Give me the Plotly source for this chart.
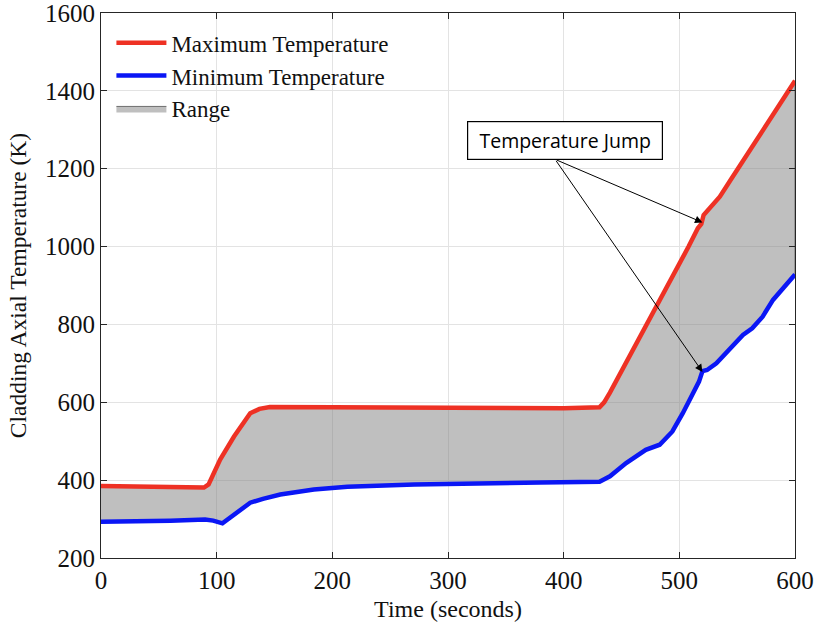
import plotly.graph_objects as go

# Maximum cladding temperature (K) vs time (s)
time_max = [0, 30, 60, 89, 93, 97, 103, 115, 129, 137, 146, 200, 250, 300, 350, 400, 431, 435, 440,
            450, 462, 471, 480, 490, 500, 508, 516, 519, 521, 527, 535, 545, 555, 563, 570, 580, 590, 600]
temp_max = [385, 384, 383, 381, 389, 415, 453, 512, 572, 583, 588, 587, 586, 586, 585, 585, 587, 600, 625,
            680, 743, 795, 846, 900, 953, 1000, 1047, 1058, 1081, 1100, 1128, 1174, 1220, 1256, 1288, 1334, 1380, 1426]

# Minimum cladding temperature (K) vs time (s)
time_min = [0, 30, 60, 90, 97, 105, 115, 129, 140, 155, 184, 213, 271, 328, 380, 431, 440, 454,
            463, 471, 483, 494, 503, 510, 517, 520, 524, 532, 540, 548, 555, 563, 572, 581, 590, 598, 600]
temp_min = [293, 294, 296, 299, 296, 289, 310, 342, 352, 363, 376, 383, 389, 393, 394, 396, 410, 444,
            462, 478, 491, 525, 572, 615, 653, 680, 683, 700, 726, 750, 773, 790, 820, 863, 895, 925, 928]

# Annotation
jump_label = "Temperature Jump"
jump_time = [520, 520]
jump_temp = [1062, 678]

x_ticks = [0, 100, 200, 300, 400, 500, 600]
y_ticks = [200, 400, 600, 800, 1000, 1200, 1400, 1600]

serif = "Liberation Serif"

fig = go.Figure()

fig.add_trace(go.Scatter(
    x=time_max + time_min[::-1],
    y=temp_max + temp_min[::-1],
    fill="toself",
    fillcolor="rgba(128,128,128,0.5)",
    line=dict(color="#6e6e6e", width=1),
    mode="lines",
    name="Range",
    legendrank=3,
    hoverinfo="skip",
))
fig.add_trace(go.Scatter(
    x=time_max, y=temp_max, mode="lines",
    line=dict(color="#EE3124", width=4.5),
    name="Maximum Temperature", legendrank=1,
))
fig.add_trace(go.Scatter(
    x=time_min, y=temp_min, mode="lines",
    line=dict(color="#0A16F5", width=4.5),
    name="Minimum Temperature", legendrank=2,
))

# Text box
fig.add_annotation(
    x=401, y=1272, xref="x", yref="y", text=jump_label, showarrow=False,
    font=dict(family="Open Sans", size=19.5, color="black"),
    bgcolor="white", bordercolor="black", borderwidth=1.2, borderpad=6,
    width=182, height=25,
)
for tx, ty in zip(jump_time, jump_temp):
    fig.add_annotation(
        x=tx, y=ty, xref="x", yref="y", ax=392.6, ay=1224, axref="x", ayref="y",
        text="", showarrow=True, arrowhead=2, arrowsize=1.5, arrowwidth=1, arrowcolor="black",
    )

axis_common = dict(
    showline=True, linecolor="#262626", linewidth=1, mirror="ticks",
    ticks="inside", ticklen=6, tickcolor="#262626",
    showgrid=True, gridcolor="#e3e3e3", gridwidth=1, zeroline=False,
    tickfont=dict(family=serif, size=25, color="#111"),
    automargin=False, ticklabeloverflow="allow",
)

fig.update_xaxes(range=[0, 600], tickvals=x_ticks, ticktext=[str(v) for v in x_ticks],
                 title=dict(text="Time (seconds)", font=dict(family=serif, size=24, color="#111"), standoff=7),
                 **axis_common)
fig.update_yaxes(range=[200, 1600], tickvals=y_ticks, ticktext=[str(v) for v in y_ticks],
                 title=dict(text="Cladding Axial Temperature (K)", font=dict(family=serif, size=23.5, color="#111"), standoff=11),
                 **axis_common)

fig.update_layout(
    width=814, height=630,
    margin=dict(l=101, r=19, t=13, b=72),
    paper_bgcolor="white", plot_bgcolor="white",
    showlegend=True,
    legend=dict(x=0.015, y=0.985, xanchor="left", yanchor="top",
                font=dict(family=serif, size=23, color="#111"),
                bgcolor="rgba(255,255,255,0)", borderwidth=0, tracegroupgap=0,
                itemwidth=50),
)

fig.write_html("out.html")
